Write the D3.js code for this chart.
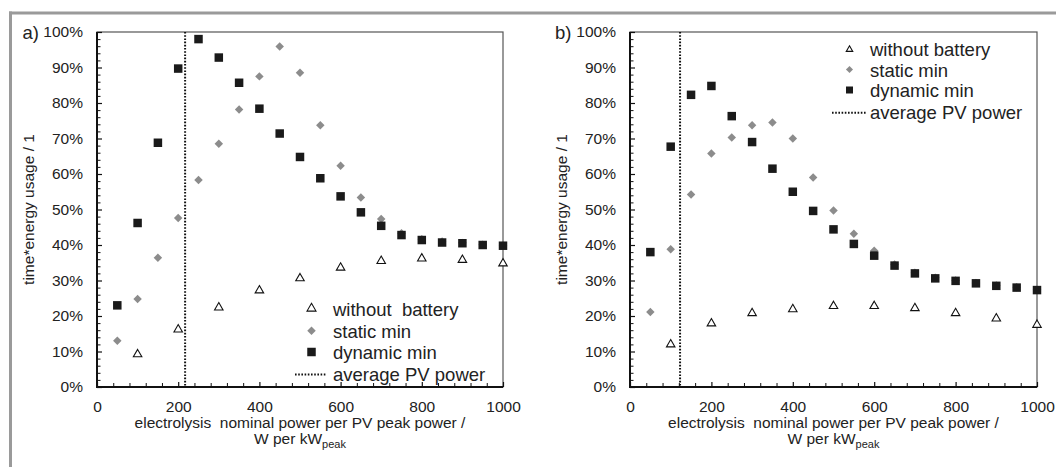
<!DOCTYPE html>
<html>
<head>
<meta charset="utf-8">
<script src="https://cdn.jsdelivr.net/npm/d3@7"></script>
<style>
  html, body { margin: 0; padding: 0; background: #fff; }
  svg { display: block; font-family: "Liberation Sans", Arial, sans-serif; }
</style>
</head>
<body>
<svg id="chart" width="1056" height="467"></svg>
<script>
// ---------- data ----------
const xValues = [50,100,150,200,250,300,350,400,450,500,550,600,650,700,750,800,850,900,950,1000];
const xTriangle = [100,200,300,400,500,600,700,800,900,1000];

const aDynamic = [23.0,46.2,68.8,89.7,98.0,92.8,85.7,78.4,71.4,64.8,58.8,53.7,49.2,45.4,42.8,41.4,40.7,40.5,40.0,39.8];
const aStatic  = [13.0,24.8,36.4,47.6,58.3,68.5,78.2,87.5,95.9,88.5,73.7,62.3,53.4,47.3,43.3,41.6,41.0,40.6,40.1,39.9];
const aWithout = [9.2,16.2,22.4,27.2,30.6,33.6,35.5,36.2,35.8,34.8];
const aAvgPV = 217;

const bDynamic = [38.0,67.7,82.3,84.8,76.3,69.0,61.5,55.0,49.6,44.4,40.3,37.0,34.2,32.0,30.6,29.9,29.2,28.5,28.0,27.3];
const bStatic  = [21.1,38.8,54.2,65.8,70.3,73.7,74.5,70.0,59.0,49.7,43.2,38.4,34.5,32.2,30.8,30.0,29.3,28.6,28.1,27.4];
const bWithout = [12.0,17.9,20.8,21.9,22.8,22.8,22.2,20.8,19.3,17.5];
const bAvgPV = 123;

const yMajorTicks = [0,10,20,30,40,50,60,70,80,90,100];
const xMajorTicks = [0,200,400,600,800,1000];
const legendLabels = ["without  battery", "static min", "dynamic min", "average PV power"];
const legendLabelsB = ["without battery", "static min", "dynamic min", "average PV power"];
const panelLabels = ["a)", "b)"];
const yTitle = "time*energy usage / 1";
const xTitle1 = "electrolysis  nominal power per PV peak power /";

// ---------- drawing ----------
const svg = d3.select("#chart");
const TEXT = "#222";
const SQ = "#1a1a1a";
const DIA = "#8c8c8c";

// outer frame (top + left)
svg.append("rect").attr("x", 9).attr("y", 11.5).attr("width", 1047).attr("height", 3).attr("fill", "#9a9a9a");
svg.append("rect").attr("x", 9).attr("y", 11.5).attr("width", 3).attr("height", 456).attr("fill", "#9a9a9a");

function triPath(w) { return d3.symbol().type(d3.symbolTriangle).size(Math.sqrt(3) / 4 * w * w)(); }
function sqPath(w) { return d3.symbol().type(d3.symbolSquare).size(w * w)(); }

function drawPanel(cfg) {
  const x = d3.scaleLinear().domain([0, 1000]).range([cfg.left, cfg.right]);
  const y = d3.scaleLinear().domain([0, 100]).range([387, 32]);
  const g = svg.append("g");

  // plot border
  g.append("rect").attr("x", cfg.left).attr("y", 32).attr("width", cfg.right - cfg.left).attr("height", 355)
    .attr("fill", "none").attr("stroke", "#555").attr("stroke-width", 1.2);

  // minor ticks y
  const yMinor = d3.range(0, 100.01, 2).filter(v => v % 10 !== 0);
  const yMinorAxis = d3.axisLeft(y).tickValues(yMinor).tickSizeInner(-3.5).tickSizeOuter(0).tickFormat("");
  const gyMinor = g.append("g").attr("transform", `translate(${cfg.left},0)`).call(yMinorAxis);
  gyMinor.select(".domain").remove();
  gyMinor.selectAll("line").attr("stroke", "#111").attr("stroke-width", 1);

  // major y axis
  const yAxis = d3.axisLeft(y).tickValues(yMajorTicks).tickSizeInner(-5).tickSizeOuter(0)
    .tickPadding(14).tickFormat(d => d + "%");
  const gy = g.append("g").attr("transform", `translate(${cfg.left},0)`).call(yAxis);
  gy.select(".domain").remove();
  gy.selectAll("line").attr("stroke", "#111").attr("stroke-width", 1.2);
  gy.selectAll("text").attr("font-size", 15.5).attr("fill", TEXT)
    .attr("font-family", '"Liberation Sans", Arial, sans-serif');

  // x minor ticks
  const xMinor = d3.range(40, 1000, 40).filter(v => v % 200 !== 0);
  const xMinorAxis = d3.axisBottom(x).tickValues(xMinor).tickSizeInner(-4).tickSizeOuter(0).tickFormat("");
  const gxMinor = g.append("g").attr("transform", "translate(0,387)").call(xMinorAxis);
  gxMinor.select(".domain").remove();
  gxMinor.selectAll("line").attr("stroke", "#111").attr("stroke-width", 1);

  const xAxis = d3.axisBottom(x).tickValues(xMajorTicks).tickSizeInner(-5).tickSizeOuter(0)
    .tickPadding(13.5).tickFormat(d3.format("d"));
  const gx = g.append("g").attr("transform", "translate(0,387)").call(xAxis);
  gx.select(".domain").remove();
  gx.selectAll("line").attr("stroke", "#111").attr("stroke-width", 1.2);
  gx.selectAll("text").attr("font-size", 15.5).attr("fill", TEXT)
    .attr("font-family", '"Liberation Sans", Arial, sans-serif');

  // thick axis lines
  g.append("line").attr("x1", cfg.left).attr("x2", cfg.left).attr("y1", 32).attr("y2", 388)
    .attr("stroke", "#111").attr("stroke-width", 2);
  g.append("line").attr("x1", cfg.left - 1).attr("x2", cfg.right).attr("y1", 387).attr("y2", 387)
    .attr("stroke", "#111").attr("stroke-width", 2);

  // average PV power dotted line
  g.append("line").attr("x1", x(cfg.avg)).attr("x2", x(cfg.avg)).attr("y1", y(100)).attr("y2", y(0))
    .attr("stroke", "#111").attr("stroke-width", 2).attr("stroke-dasharray", "1.6,1.6");

  // triangles
  g.selectAll(".tri").data(xTriangle.map((v, i) => [v, cfg.without[i]])).join("path")
    .attr("d", triPath(8.5))
    .attr("transform", d => `translate(${x(d[0])},${y(d[1])})`)
    .attr("fill", "#fff").attr("stroke", "#111").attr("stroke-width", 1.1);

  // static diamonds
  g.selectAll(".dia").data(xValues.map((v, i) => [v, cfg.stat[i]])).join("path")
    .attr("d", sqPath(6))
    .attr("transform", d => `translate(${x(d[0])},${y(d[1])}) rotate(45)`)
    .attr("fill", DIA);

  // dynamic squares
  g.selectAll(".sq").data(xValues.map((v, i) => [v, cfg.dyn[i]])).join("path")
    .attr("d", sqPath(8.5))
    .attr("transform", d => `translate(${x(d[0])},${y(d[1])})`)
    .attr("fill", SQ);

  // panel label
  g.append("text").attr("x", cfg.labelX).attr("y", 39).attr("font-size", 18.5).attr("fill", TEXT).text(cfg.label);

  // y title
  g.append("text").attr("transform", `translate(${cfg.left - 68},209.5) rotate(-90)`)
    .attr("text-anchor", "middle").attr("dy", "0.35em").attr("font-size", 15.5).attr("fill", TEXT).text(yTitle);

  // x title
  const cx = (cfg.left + cfg.right) / 2;
  g.append("text").attr("x", cx).attr("y", 427.5).attr("text-anchor", "middle")
    .attr("font-size", 15.5).attr("fill", TEXT).attr("xml:space", "preserve").style("white-space", "pre").text(xTitle1);
  const t2 = g.append("text").attr("x", cx).attr("y", 443.5).attr("text-anchor", "middle")
    .attr("font-size", 15.5).attr("fill", TEXT);
  t2.append("tspan").text("W per kW");
  t2.append("tspan").attr("font-size", 11).attr("dy", 4).text("peak");

  // legend
  const L = cfg.legend;
  L.rows.forEach((ry, i) => {
    const mx = L.mx;
    if (i === 0) {
      g.append("path").attr("d", triPath(L.tri)).attr("transform", `translate(${mx},${ry})`)
        .attr("fill", "#fff").attr("stroke", "#111").attr("stroke-width", 1.1);
    } else if (i === 1) {
      g.append("path").attr("d", sqPath(L.dia)).attr("transform", `translate(${mx},${ry}) rotate(45)`).attr("fill", DIA);
    } else if (i === 2) {
      g.append("path").attr("d", sqPath(L.sq)).attr("transform", `translate(${mx},${ry})`).attr("fill", SQ);
    } else {
      g.append("line").attr("x1", L.lx1).attr("x2", L.lx2).attr("y1", ry).attr("y2", ry)
        .attr("stroke", "#111").attr("stroke-width", 2).attr("stroke-dasharray", "1.6,1.6");
    }
    g.append("text").attr("x", L.tx).attr("y", L.base[i]).attr("font-size", 18.5).attr("fill", TEXT)
      .style("white-space", "pre").text(L.labels[i]);
  });
}

drawPanel({
  left: 97, right: 503, avg: aAvgPV, dyn: aDynamic, stat: aStatic, without: aWithout,
  label: panelLabels[0], labelX: 22.5,
  legend: { mx: 311.5, lx1: 295, lx2: 326, tx: 333, rows: [308.5, 330.7, 352, 374.5],
            base: [316, 337.5, 358.5, 380.5], tri: 9, dia: 6, sq: 8.5, labels: legendLabels }
});
drawPanel({
  left: 630, right: 1037, avg: bAvgPV, dyn: bDynamic, stat: bStatic, without: bWithout,
  label: panelLabels[1], labelX: 555,
  legend: { mx: 849.5, lx1: 832, lx2: 867, tx: 870, rows: [49.5, 69.5, 90, 112.7],
            base: [55.5, 76.5, 97, 118.5], tri: 6.5, dia: 5, sq: 7, labels: legendLabelsB }
});
</script>
</body>
</html>
